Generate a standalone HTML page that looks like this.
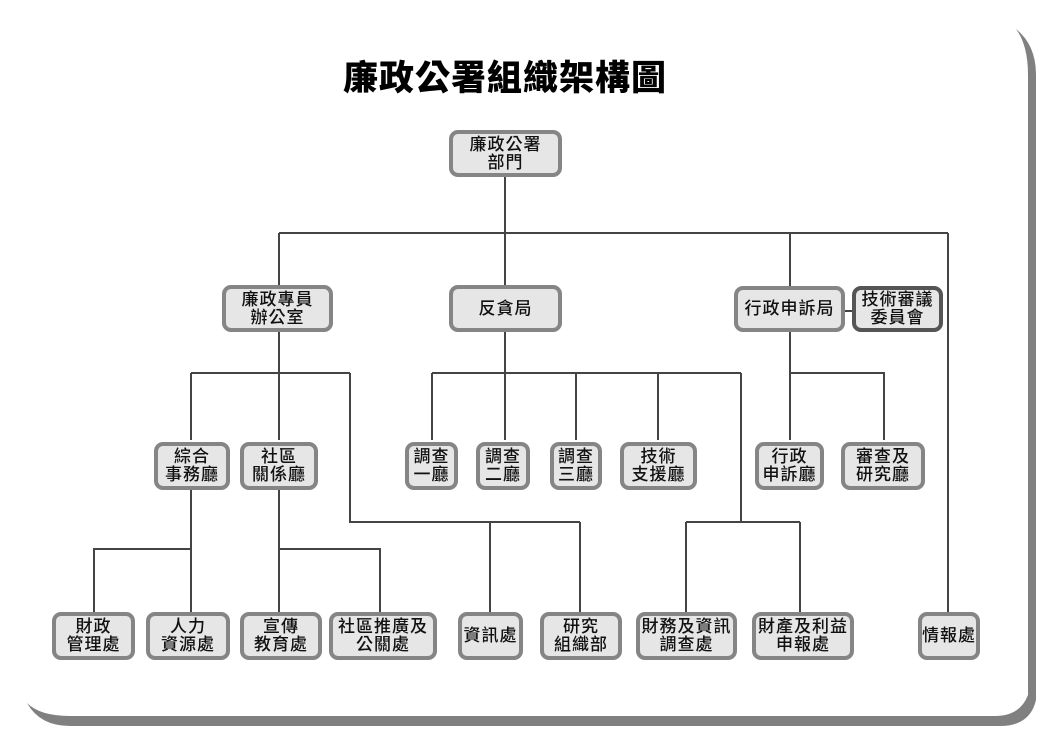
<!DOCTYPE html>
<html><head><meta charset="utf-8"><style>
html,body{margin:0;padding:0;background:#fff;}
#c{position:relative;width:1045px;height:738px;overflow:hidden;background:#fff;font-family:"Liberation Sans","Noto Sans CJK TC",sans-serif;}
.n{position:absolute;box-sizing:border-box;border:4px solid #858585;border-radius:9px;background:#e6e6e6;display:flex;align-items:center;justify-content:center;text-align:center;font-size:17px;line-height:18px;color:#111;font-weight:500;letter-spacing:1px;white-space:nowrap;}
.d{border-color:#555;}
h1{position:absolute;left:0;width:1010px;top:50px;margin:0;text-align:center;font-size:35px;font-weight:900;color:#000;font-family:"Liberation Sans","Noto Sans CJK TC",sans-serif;letter-spacing:1px;}
</style></head><body><div id="c">
<svg width="1045" height="738" style="position:absolute;left:0;top:0">
<path d="M1016,29 Q1036,45 1036,75 V700 Q1030,726 1000,726 H70 Q40,726 27,703 Z" fill="#808080"/>
<path d="M0,0 H1000 L1016,29 Q1028,45 1028,75 V695 Q1020,716 995,716 H70 Q40,716 27,703 L0,703 Z" fill="#fff"/>
<g stroke="#444" stroke-width="2" fill="none">
<path d="M505,176V285 M279,233H948 M279,233V285 M790,233V286 M948,233V612 M845,311H852"/>
<path d="M279,332V440 M191,373H350 M191,373V440 M350,373V522H580 M490,522V612 M580,522V612"/>
<path d="M191,490V549H94V612 M191,549V612 M279,490V549H380V612 M279,549V612"/>
<path d="M505,332V440 M432,373H741 M432,373V440 M576,373V440 M658,373V440 M741,373V522 M686,522H800 M686,522V612 M800,522V612"/>
<path d="M790,332V440 M790,373H884V440"/>
</g></svg>
<h1>廉政公署組織架構圖</h1>
<div class="n" style="left:449px;top:130px;width:113px;height:47px">廉政公署<br>部門</div>
<div class="n" style="left:222px;top:285px;width:111px;height:47px">廉政專員<br>辦公室</div>
<div class="n" style="left:449px;top:285px;width:113px;height:47px">反貪局</div>
<div class="n" style="left:734px;top:286px;width:111px;height:46px">行政申訴局</div>
<div class="n d" style="left:852px;top:286px;width:91px;height:46px">技術審議<br>委員會</div>
<div class="n" style="left:154px;top:442px;width:76px;height:48px">綜合<br>事務廳</div>
<div class="n" style="left:240px;top:442px;width:78px;height:48px">社區<br>關係廳</div>
<div class="n" style="left:405px;top:442px;width:53px;height:48px">調查<br>一廳</div>
<div class="n" style="left:476px;top:442px;width:54px;height:48px">調查<br>二廳</div>
<div class="n" style="left:550px;top:442px;width:52px;height:48px">調查<br>三廳</div>
<div class="n" style="left:620px;top:442px;width:77px;height:48px">技術<br>支援廳</div>
<div class="n" style="left:755px;top:442px;width:69px;height:48px">行政<br>申訴廳</div>
<div class="n" style="left:841px;top:442px;width:84px;height:48px">審查及<br>研究廳</div>
<div class="n" style="left:52px;top:612px;width:83px;height:48px">財政<br>管理處</div>
<div class="n" style="left:146px;top:612px;width:84px;height:48px">人力<br>資源處</div>
<div class="n" style="left:240px;top:612px;width:82px;height:48px">宣傳<br>教育處</div>
<div class="n" style="left:329px;top:612px;width:108px;height:48px">社區推廣及<br>公關處</div>
<div class="n" style="left:458px;top:612px;width:65px;height:48px">資訊處</div>
<div class="n" style="left:540px;top:612px;width:82px;height:48px">研究<br>組織部</div>
<div class="n" style="left:636px;top:612px;width:101px;height:48px">財務及資訊<br>調查處</div>
<div class="n" style="left:752px;top:612px;width:102px;height:48px">財產及利益<br>申報處</div>
<div class="n" style="left:918px;top:612px;width:62px;height:48px">情報處</div>
</div></body></html>
